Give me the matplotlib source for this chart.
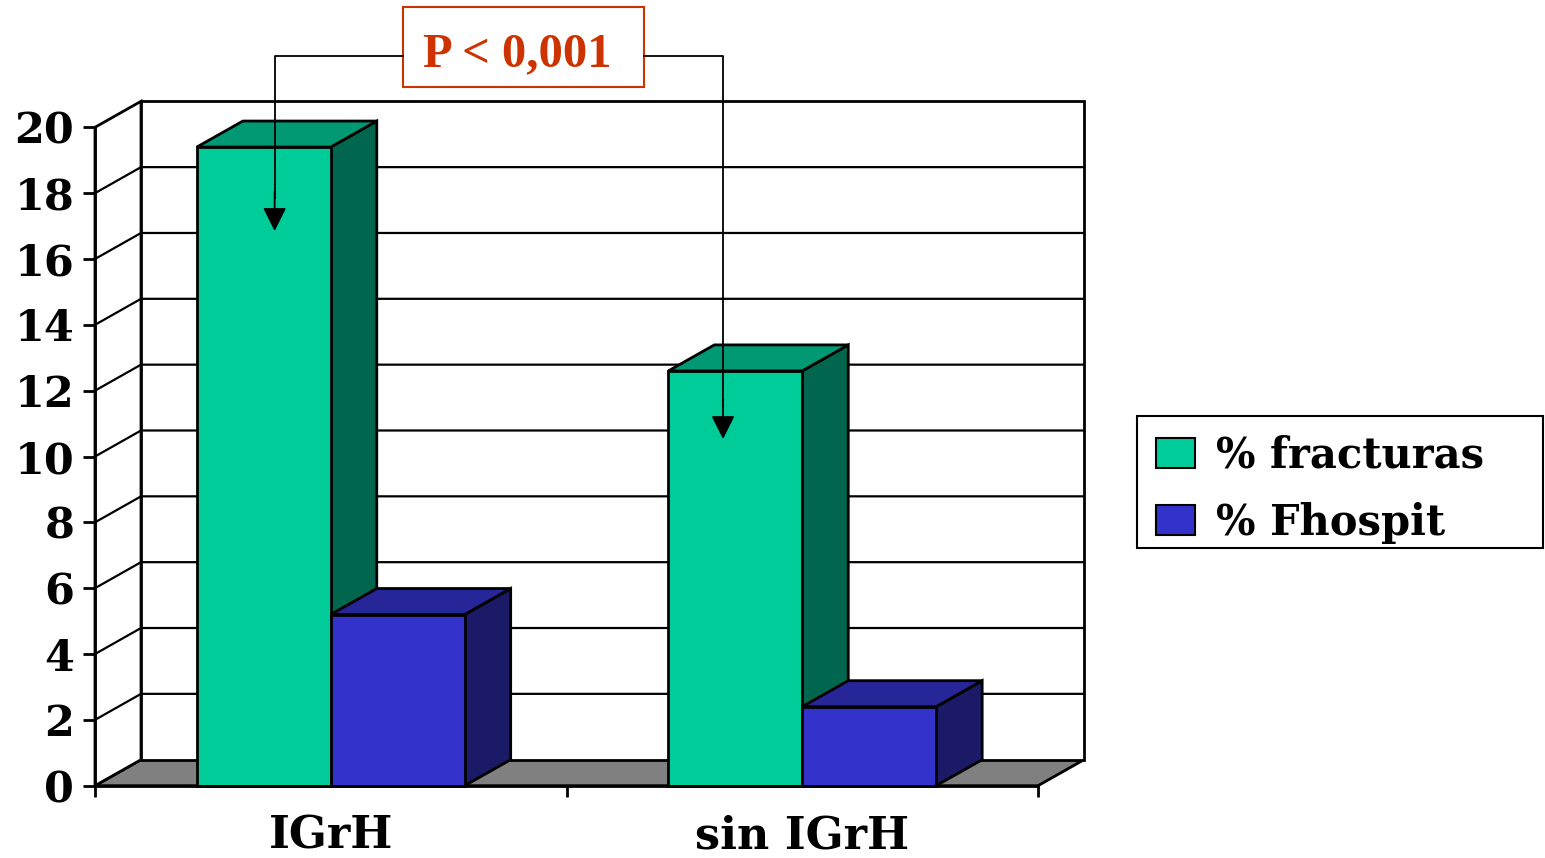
import matplotlib.pyplot as plt
from matplotlib.patches import Polygon, Rectangle, Patch

categories = ['IGrH', 'sin IGrH']
series_names = ['% fracturas', '% Fhospit']
fracturas = [19.4, 12.6]
fhospit = [5.2, 2.4]
yticks = list(range(0, 21, 2))
p_text = 'P < 0,001'

# front / top / side shades for each series
shades = [('#00CC99', '#009973', '#00664D'),
          ('#3333CC', '#262699', '#1A1A66')]

serif = 'DejaVu Serif'
fig = plt.figure(figsize=(15.45, 8.58), dpi=100)
ax = fig.add_axes([95 / 1545, 1 - 785.7 / 858, 943 / 1545, 658.4 / 858])
ax.set_xlim(0, 2)
ax.set_ylim(0, 20)

dx, dy = 0.0976, 0.79   # depth of the box in data units
lw = 2.0
bw = 0.284              # bar width

# floor, side wall, back wall
ax.add_patch(Polygon([(0, 0), (2, 0), (2 + dx, dy), (dx, dy)], closed=True,
                     facecolor='#808080', edgecolor='black', lw=lw, clip_on=False, zorder=1))
ax.add_patch(Polygon([(0, 0), (dx, dy), (dx, 20 + dy), (0, 20)], closed=True,
                     facecolor='white', edgecolor='black', lw=lw, clip_on=False, zorder=1))
ax.add_patch(Rectangle((dx, dy), 2, 20, facecolor='white', edgecolor='black',
                       lw=lw, clip_on=False, zorder=1))
for v in yticks[1:-1]:
    ax.plot([0, dx, 2 + dx], [v, v + dy, v + dy], color='black', lw=1.6,
            clip_on=False, zorder=2)

# 3d bars, left to right so each one hides the side of the previous
for i, vals in enumerate(zip(fracturas, fhospit)):
    for j, h in enumerate(vals):
        front, top, side = shades[j]
        x0 = i + 0.5 - bw + j * bw
        ax.add_patch(Polygon([(x0 + bw, 0), (x0 + bw + dx, dy), (x0 + bw + dx, h + dy), (x0 + bw, h)],
                             closed=True, facecolor=side, edgecolor='black', lw=lw,
                             clip_on=False, zorder=3))
        ax.add_patch(Polygon([(x0, h), (x0 + dx, h + dy), (x0 + bw + dx, h + dy), (x0 + bw, h)],
                             closed=True, facecolor=top, edgecolor='black', lw=lw,
                             clip_on=False, zorder=3))
        ax.add_patch(Rectangle((x0, 0), bw, h, facecolor=front, edgecolor='black',
                               lw=lw, clip_on=False, zorder=3))

# axes
for s in ['top', 'right']:
    ax.spines[s].set_visible(False)
for s in ['left', 'bottom']:
    ax.spines[s].set_linewidth(lw)
    ax.spines[s].set_zorder(4)
ax.set_yticks(yticks)
ax.set_yticklabels([str(v) for v in yticks], fontfamily=serif, fontweight='bold', fontsize=31)
ax.tick_params(axis='y', length=9, width=lw, pad=6)
ax.set_xticks([0, 1, 2])
ax.set_xticklabels([])
ax.tick_params(axis='x', which='major', length=8, width=lw)
ax.set_xticks([0.5, 1.5], minor=True)
ax.set_xticklabels(categories, minor=True, fontfamily=serif, fontweight='bold', fontsize=32)
ax.tick_params(axis='x', which='minor', length=0, pad=21)

# significance bracket
red = '#CC3300'
box_x0, box_x1, box_y0, box_y1 = 0.653, 1.164, 21.22, 23.64
line_y = 22.17
left_x, left_tip = 0.381, 16.85
right_x, right_tip = 1.332, 10.53
ax.add_patch(Rectangle((box_x0, box_y0), box_x1 - box_x0, box_y1 - box_y0, facecolor='white',
                       edgecolor=red, lw=1.5, clip_on=False, zorder=5))
ax.text(0.895, 21.86, p_text, color=red, fontfamily='Liberation Serif', fontweight='bold',
        fontsize=35, ha='center', va='baseline', zorder=6)
ax.plot([box_x0, left_x, left_x], [line_y, line_y, left_tip + 1], color='black', lw=1.3,
        clip_on=False, zorder=5)
ax.plot([box_x1, right_x, right_x], [line_y, line_y, right_tip + 1], color='black', lw=1.3,
        clip_on=False, zorder=5)
for x, tip in [(left_x, left_tip), (right_x, right_tip)]:
    ax.annotate('', xy=(x, tip), xytext=(x, tip + 1.2),
                arrowprops=dict(arrowstyle='-|>,head_length=0.72,head_width=0.36',
                                mutation_scale=20, color='black', lw=1.3,
                                shrinkA=0, shrinkB=0), zorder=6, annotation_clip=False)

# legend, with its own frame
fig.patches.append(Rectangle((1137 / 1545, 1 - 548 / 858), 406 / 1545, 132 / 858,
                             transform=fig.transFigure, facecolor='white',
                             edgecolor='black', lw=1.5, zorder=0))
handles = [Patch(facecolor=shades[k][0], edgecolor='black', lw=1.5) for k in range(2)]
leg = fig.legend(handles, series_names, loc='upper left',
                 bbox_to_anchor=(1137 / 1545, 1 - 416 / 858), borderaxespad=0,
                 prop={'family': serif, 'weight': 'bold', 'size': 30},
                 frameon=False, handlelength=0.95, handleheight=0.72, handletextpad=0.5,
                 labelspacing=0.6, borderpad=0.45)

fig.savefig('out.png', dpi=100)
